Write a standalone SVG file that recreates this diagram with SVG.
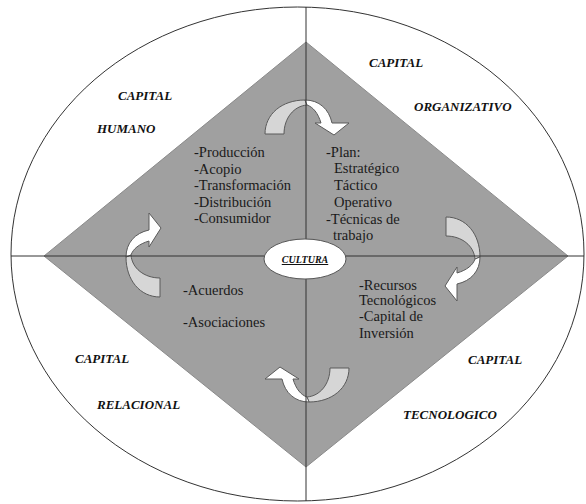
<svg xmlns="http://www.w3.org/2000/svg" width="586" height="504" viewBox="0 0 586 504">
<style>
.lbl{font-family:'Liberation Serif','DejaVu Serif',serif;font-size:13px;font-weight:bold;font-style:italic;fill:#111}
.lst{font-family:'Liberation Serif','DejaVu Serif',serif;font-size:14.5px;fill:#1a1a1a}
.axis{stroke:#333;stroke-width:1;fill:none}
.back{fill:#d6d6d6;stroke:#5a5a5a;stroke-width:1}
.front{fill:#ffffff;stroke:#5a5a5a;stroke-width:1}
</style>
<defs>
<g id="curved-arrow">
<path class="back" d="M -40,34 C -40,14 -23,0 0,0 L 2,5 C -11,6 -21,18 -21,34 Z"/>
<path class="front" d="M 0,0 C 14,0 24,9 27,23 L 44,23 L 29,35 L 10,23 L 16,23 C 13,13 8,7 2,5 Z"/>
</g>
</defs>
<rect width="586" height="504" fill="#ffffff"/>
<g id="outer">
<ellipse cx="297.5" cy="254" rx="286.5" ry="247" fill="#ffffff" stroke="#333" stroke-width="1"/>
</g>
<g id="diamond">
<polygon points="306,42 568,256 306,467 44,256" fill="#a0a0a0" stroke="#8a8a8a" stroke-width="1"/>
</g>
<g id="connectors">
<use href="#curved-arrow" transform="translate(305,100)"/>
<use href="#curved-arrow" transform="translate(480,257) rotate(90)"/>
<use href="#curved-arrow" transform="translate(309,402) rotate(180)"/>
<use href="#curved-arrow" transform="translate(126,257) rotate(-90)"/>
<line class="axis" x1="306" y1="7" x2="306" y2="501"/>
<line class="axis" x1="11" y1="256" x2="584" y2="256"/>
</g>
<g id="cultura">
<ellipse cx="305" cy="259" rx="41" ry="20" fill="#ffffff" stroke="#555" stroke-width="1"/>
<text x="305" y="263" text-anchor="middle" font-family="'Liberation Serif','DejaVu Serif',serif" font-size="10" font-weight="bold" font-style="italic" text-decoration="underline" fill="#111">CULTURA</text>
</g>
<g id="capital-humano">
<text class="lbl" x="118" y="100">CAPITAL</text>
<text class="lbl" x="97" y="133">HUMANO</text>
<text class="lst" x="194" y="157">-Producción</text>
<text class="lst" x="194" y="174">-Acopio</text>
<text class="lst" x="194" y="190">-Transformación</text>
<text class="lst" x="194" y="207">-Distribución</text>
<text class="lst" x="194" y="223">-Consumidor</text>
</g>
<g id="capital-organizativo">
<text class="lbl" x="369" y="67">CAPITAL</text>
<text class="lbl" x="414" y="111">ORGANIZATIVO</text>
<text class="lst" x="326" y="157">-Plan:</text>
<text class="lst" x="334" y="173">Estratégico</text>
<text class="lst" x="334" y="190">Táctico</text>
<text class="lst" x="334" y="207">Operativo</text>
<text class="lst" x="326" y="224">-Técnicas de</text>
<text class="lst" x="333" y="240">trabajo</text>
</g>
<g id="capital-relacional">
<text class="lbl" x="75" y="363">CAPITAL</text>
<text class="lbl" x="97" y="409">RELACIONAL</text>
<text class="lst" x="183" y="295">-Acuerdos</text>
<text class="lst" x="183" y="327">-Asociaciones</text>
</g>
<g id="capital-tecnologico">
<text class="lbl" x="468" y="364">CAPITAL</text>
<text class="lbl" x="403" y="419">TECNOLOGICO</text>
<text class="lst" x="359" y="290">-Recursos</text>
<text class="lst" x="359" y="305">Tecnológicos</text>
<text class="lst" x="359" y="321">-Capital de</text>
<text class="lst" x="359" y="338">Inversión</text>
</g>
</svg>
